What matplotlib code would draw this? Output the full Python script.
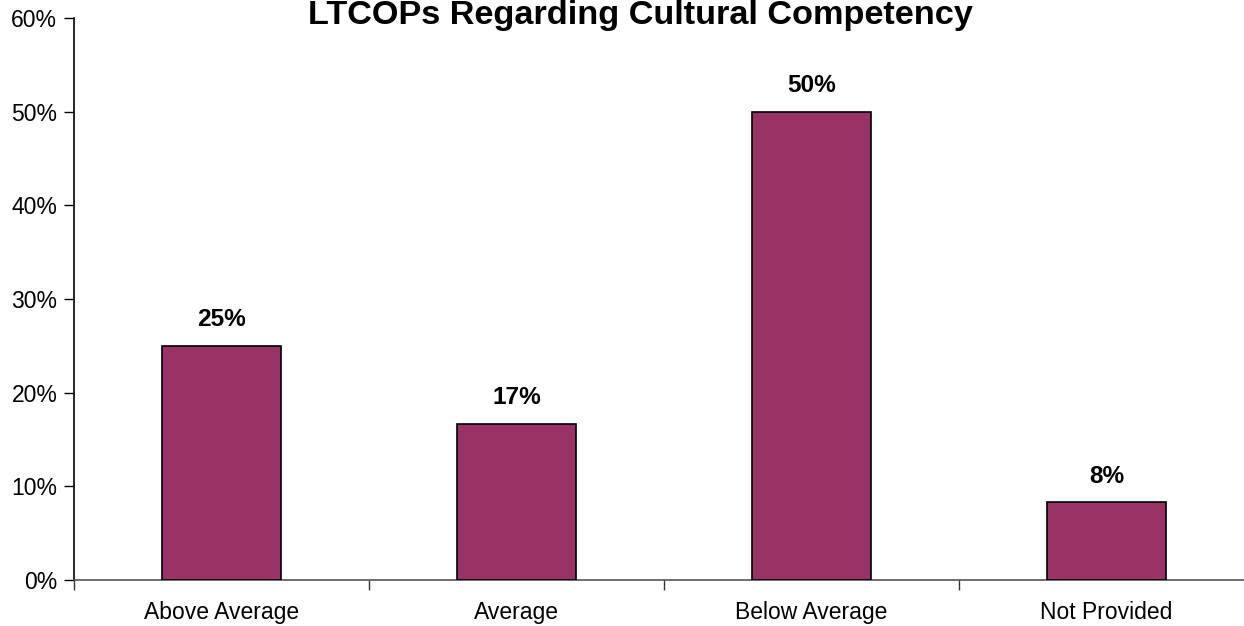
import matplotlib
matplotlib.use("Agg")
import matplotlib.pyplot as plt
import numpy as np

categories = ["Above Average", "Average", "Below Average", "Not Provided"]
values = [25.0, 16.67, 50.0, 8.33]
labels = ["25%", "17%", "50%", "8%"]
title = "LTCOPs Regarding Cultural Competency"

plt.rcParams['font.family'] = ['Liberation Sans', 'DejaVu Sans']

W, H = 1244, 626
fig = plt.figure(figsize=(W / 100, H / 100), dpi=100)
ax = fig.add_axes([74 / W, 46 / H, 1180 / W, 562 / H])

x = np.arange(len(categories))
bars = ax.bar(x, values, width=0.405, color="#993366", edgecolor="black", linewidth=1.2, zorder=3)

for xi, v, lab in zip(x, values, labels):
    ax.annotate(lab, (xi, v), xytext=(0, 14), textcoords="offset points",
                ha="center", va="baseline", fontsize=17.6, fontweight="bold")

ax.set_xlim(-0.5, 3.5)
ax.set_ylim(0, 60)
ax.set_yticks(np.arange(0, 61, 10))
ax.set_yticklabels([f"{int(t)}%" for t in np.arange(0, 61, 10)], fontsize=16.5)
ax.set_xticks(x)
ax.set_xticklabels(categories, fontsize=16.5)
ax.tick_params(axis="x", which="major", length=0, pad=15)
ax.set_xticks(np.arange(-0.5, 3.6, 1.0), minor=True)
ax.tick_params(axis="x", which="minor", length=7, width=1, color="#333333")
ax.tick_params(axis="y", length=7, width=1, pad=5)

for s in ["top", "right"]:
    ax.spines[s].set_visible(False)
ax.spines["left"].set_color("black")
ax.spines["bottom"].set_color("#555555")
ax.spines["left"].set_linewidth(1.2)
ax.spines["bottom"].set_linewidth(1.2)

fig.text(640 / W, 1 - 24 / H, title, ha="center", va="baseline", fontsize=24.7, fontweight="bold")

fig.savefig("out.png", dpi=100)
